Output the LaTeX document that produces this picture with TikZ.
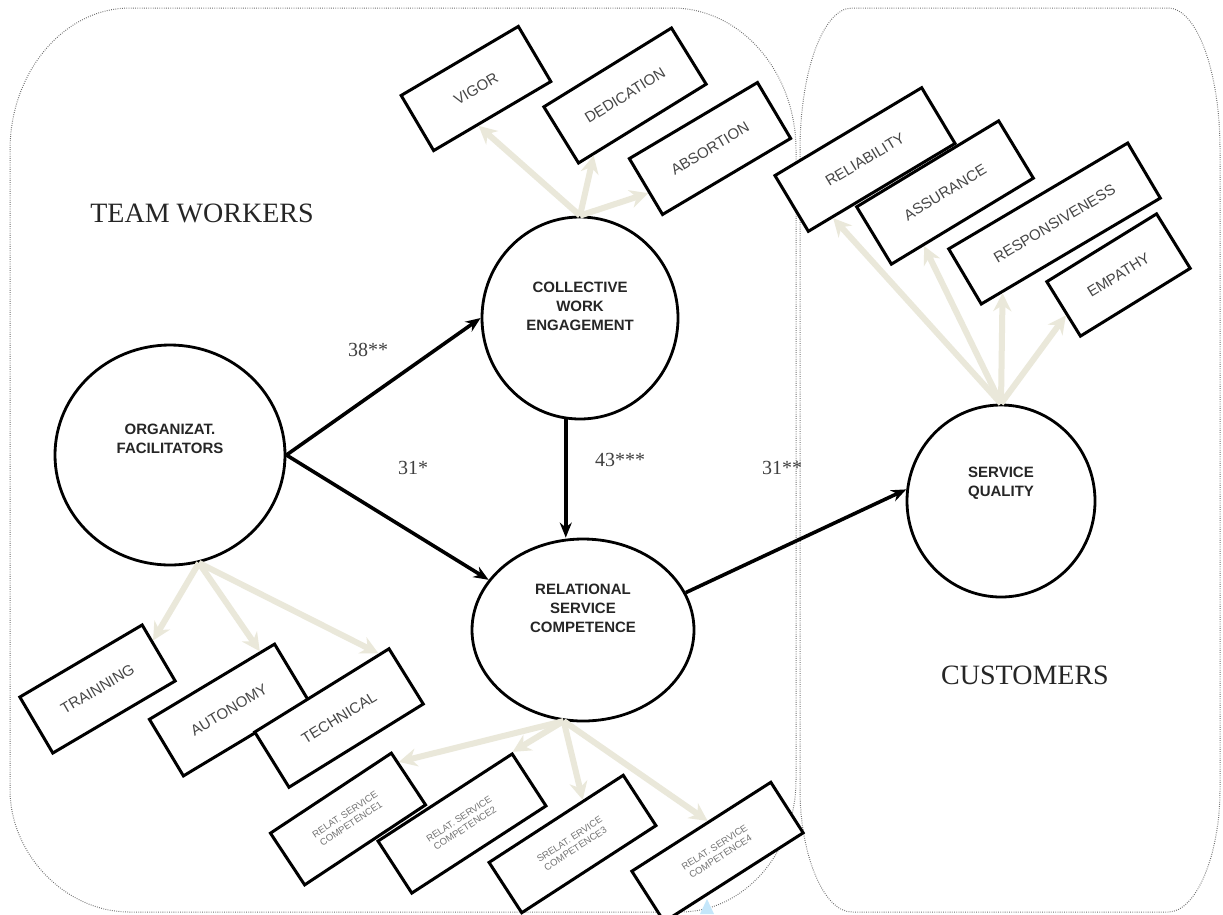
\documentclass[tikz,border=0pt]{standalone}
\usepackage{fontspec}
\setmainfont{Liberation Serif}
\newfontfamily\arialfont{Liberation Sans}
\usetikzlibrary{shapes.geometric,arrows.meta,calc}

\definecolor{paleline}{RGB}{234,232,218}
\definecolor{boxtext}{RGB}{70,70,70}
\definecolor{paneldots}{RGB}{110,110,110}
\definecolor{cursorblue}{RGB}{196,230,250}

\tikzset{
  latent/.style={ellipse, draw, line width=2.8pt, fill=white, inner sep=0pt},
  latenttext/.style={font=\arialfont\bfseries\fontsize{15}{19}\selectfont, align=center, text=black!85},
  indicator/.style={draw, line width=3pt, fill=white, inner sep=0pt,
    font=\arialfont\fontsize{15}{17}\selectfont, text=boxtext},
  smallind/.style={indicator, align=center, text=black!55,
    font=\arialfont\fontsize{9.5}{11}\selectfont},
  causal/.style={-{Stealth[length=15pt,width=12pt]}, line width=3.6pt},
  loading/.style={-{Stealth[length=18pt,width=18pt]}, line width=6pt, draw=paleline},
  coef/.style={font=\fontsize{20}{20}\selectfont, text=black!75},
  grouptitle/.style={font=\fontsize{28}{28}\selectfont, text=black!85},
  panel/.style={draw=paneldots, line width=1pt, dash pattern=on 0.8pt off 1.4pt}
}

\begin{document}
\begin{tikzpicture}[x=1pt, y=-1pt]
  \useasboundingbox (0,0) rectangle (1223,914);
  \fill[white] (0,0) rectangle (1223,914);

  % the two groups
  \draw[panel] (10,150) .. controls (10,72) and (64,8) .. (130,8) -- (672,8)
    .. controls (741,8) and (796,72) .. (796,150) -- (796,780)
    .. controls (796,853) and (744,912) .. (680,912) -- (130,912)
    .. controls (64,912) and (10,853) .. (10,790) -- cycle;
  \draw[panel] (800,150) .. controls (800,72) and (823,8) .. (852,8) -- (1168,8)
    .. controls (1197,8) and (1220,72) .. (1220,150) -- (1220,790)
    .. controls (1220,853) and (1197,912) .. (1168,912) -- (852,912)
    .. controls (823,912) and (800,853) .. (800,790) -- cycle;

  \node[grouptitle] (workers) at (202,213) {TEAM WORKERS};
  \node[grouptitle] (customers) at (1025,675) {CUSTOMERS};

  % latent variables
  \node[latent, minimum width=230pt, minimum height=220pt] (org) at (170,455) {};
  \node[latent, minimum width=196pt, minimum height=202pt] (cwe) at (580,318) {};
  \node[latent, minimum width=222pt, minimum height=182pt] (rsc) at (583,630) {};
  \node[latent, minimum width=188pt, minimum height=192pt] (sq) at (1001,501) {};

  \node[latenttext] (orgtxt) at ([yshift=16pt]org.center) {ORGANIZAT.\\FACILITATORS};
  \node[latenttext] (cwetxt) at ([yshift=12pt]cwe.center) {COLLECTIVE\\WORK\\ENGAGEMENT};
  \node[latenttext] (rsctxt) at ([yshift=22pt]rsc.center) {RELATIONAL\\SERVICE\\COMPETENCE};
  \node[latenttext] (sqtxt) at ([yshift=18pt]sq.center) {SERVICE\\QUALITY};

  % indicators
  \node[indicator, minimum width=136pt, minimum height=64pt, rotate=30.5] (vigor) at (476,88.5) {VIGOR};
  \node[indicator, minimum width=150pt, minimum height=66pt, rotate=31.7] (dedication) at (625,95.5) {DEDICATION};
  \node[indicator, minimum width=149pt, minimum height=65pt, rotate=30.7] (absortion) at (710,148.5) {ABSORTION};

  \node[indicator, minimum width=171pt, minimum height=65pt, rotate=30.9] (reliability) at (865,159.5) {RELIABILITY};
  \node[indicator, minimum width=166pt, minimum height=67pt, rotate=31.2] (assurance) at (945,192.5) {ASSURANCE};
  \node[indicator, minimum width=208pt, minimum height=64pt, rotate=30.6] (responsiv) at (1054.5,223.5) {RESPONSIVENESS};
  \node[indicator, minimum width=129pt, minimum height=64pt, rotate=31.7] (empathy) at (1118.5,275) {EMPATHY};

  \node[indicator, minimum width=142pt, minimum height=65pt, rotate=30.5] (trainning) at (97.5,689) {TRAINNING};
  \node[indicator, minimum width=146pt, minimum height=66pt, rotate=31] (autonomy) at (229,710) {AUTONOMY};
  \node[indicator, minimum width=158pt, minimum height=65pt, rotate=31.8] (technical) at (339,718) {TECHNICAL};

  \node[smallind, minimum width=145pt, minimum height=62pt, rotate=33.5] (rsa) at (348,819) {RELAT. SERVICE\\COMPETENCE1};
  \node[smallind, minimum width=160pt, minimum height=62pt, rotate=33] (rsb) at (462,823.5) {RELAT. SERVICE\\COMPETENCE2};
  \node[smallind, minimum width=160pt, minimum height=60pt, rotate=33] (rsc3) at (572.5,844) {SRELAT. ERVICE\\COMPETENCE3};
  \node[smallind, minimum width=165pt, minimum height=60pt, rotate=32.6] (rsd) at (717.5,852) {RELAT. SERVICE\\COMPETENCE4};

  % loadings
  \draw[loading] (cwe.north) -- ($(vigor.south west)!0.38!(vigor.south east)$);
  \draw[loading] (cwe.north) -- ($(dedication.south west)!0.12!(dedication.south east)$);
  \draw[loading] (cwe.north) -- ($(absortion.north west)!0.6!(absortion.south west)$);

  \draw[loading] (sq.north) -- ($(reliability.south west)!0.17!(reliability.south east)$);
  \draw[loading] (sq.north) -- ($(assurance.south west)!0.23!(assurance.south east)$);
  \draw[loading] (sq.north) -- ($(responsiv.south west)!0.12!(responsiv.south east)$);
  \draw[loading] (sq.north) -- ($(empathy.north west)!0.6!(empathy.south west)$);

  \draw[loading] (org.-75) -- ($(trainning.north east)!0.3!(trainning.south east)$);
  \draw[loading] (org.-75) -- ($(autonomy.north west)!0.88!(autonomy.north east)$);
  \draw[loading] (org.-75) -- ($(technical.north west)!0.92!(technical.north east)$);

  \draw[loading] (rsc.258) -- ($(rsa.north east)!0.2!(rsa.south east)$);
  \draw[loading] (rsc.258) -- (rsb.north east);
  \draw[loading] (rsc.258) -- ($(rsc3.north west)!0.7!(rsc3.north east)$);
  \draw[loading] (rsc.258) -- ($(rsd.north west)!0.55!(rsd.north east)$);

  % structural paths
  \draw[causal] (org.east) -- (cwe.west);
  \draw[causal] (org.east) -- (rsc.152);
  \draw[causal] (cwe.262) -- (cwe.262 |- rsc.north);
  \draw[causal] (rsc.20) -- (sq.173);

  \node[coef] (b1) at (368,350) {38**};
  \node[coef] (b2) at (413,468) {31*};
  \node[coef] (b3) at (620,460) {43***};
  \node[coef] (b4) at (782,468) {31**};

  \fill[cursorblue] (700,914) -- (707,899) -- (714,914) -- cycle;
\end{tikzpicture}
\end{document}
